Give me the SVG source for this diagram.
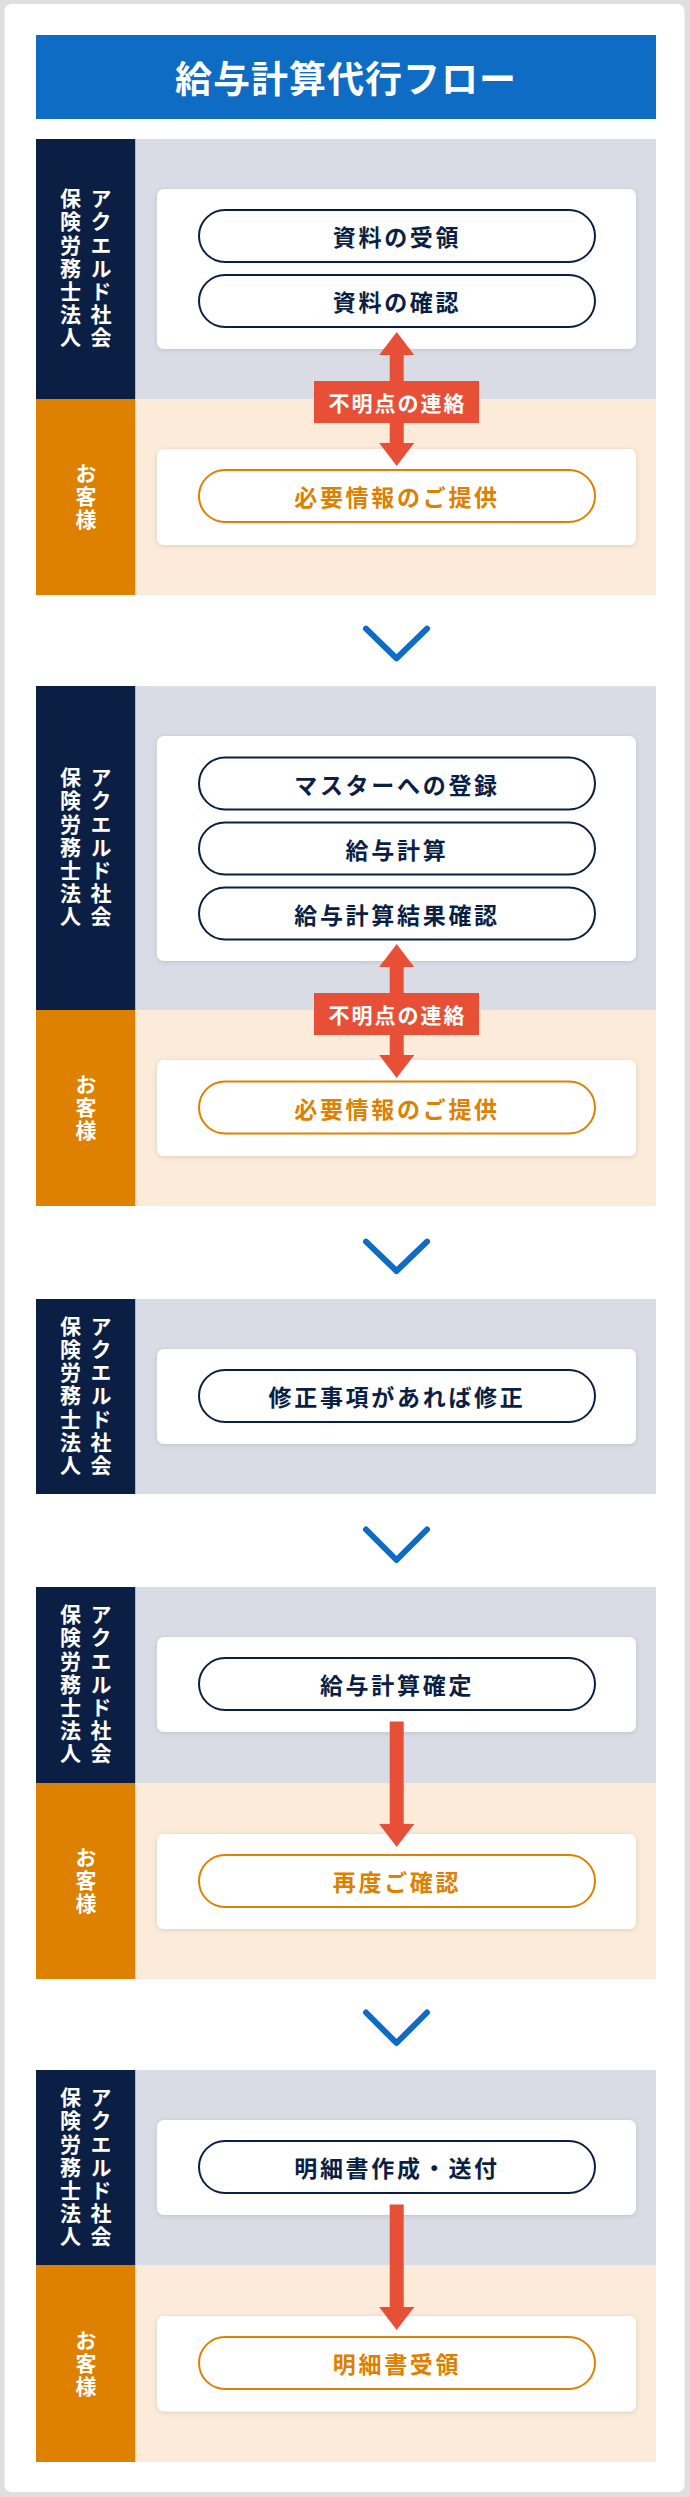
<svg xmlns="http://www.w3.org/2000/svg" width="690" height="2497" viewBox="0 0 690 2497">
<style>
text{font-family:"Noto Sans CJK JP","Noto Sans",sans-serif;font-weight:700}
.title{fill:#fff;font-size:37px;letter-spacing:1px}
.nv{fill:#0b1f45}
.ogl{fill:#de8000}
.gr{fill:#d9dce4}
.bg{fill:#fbebd8}
.card{fill:#fff;filter:url(#sh)}
.pn{fill:#fff;stroke:#0b1f45;stroke-width:2}
.po{fill:#fff;stroke:#de8000;stroke-width:2}
.tn{fill:#0b1f45;font-size:23px;letter-spacing:2.7px}
.to{fill:#de8000;font-size:23px;letter-spacing:2.7px}
.vl{fill:#fff;font-size:21px;letter-spacing:2.2px;writing-mode:vertical-rl}
.arr{stroke:#e84f37;stroke-width:14;fill:none}
.lbl{fill:#e84f37}
.lt{fill:#fff;font-size:21px;letter-spacing:2px}
.chev{fill:none;stroke:#0f6cc4;stroke-width:6;stroke-linecap:round;stroke-linejoin:round}
</style>
<defs>
<filter id="sh" x="-5%" y="-10%" width="110%" height="130%">
<feDropShadow dx="0" dy="1" stdDeviation="2.5" flood-color="#000" flood-opacity="0.12"/>
</filter>
<marker id="ah" markerUnits="userSpaceOnUse" markerWidth="23" markerHeight="35" viewBox="0 0 23 35" refX="1" refY="17.5" orient="auto-start-reverse">
<path d="M0,0 L23,17.5 L0,35 Z" fill="#e84f37"/>
</marker>
</defs>
<rect x="0" y="0" width="690" height="2497" fill="#dfdfdf"/>
<rect x="4.5" y="4" width="680" height="2488" rx="7" fill="#fff"/>

<g id="title">
<rect x="36" y="35" width="620" height="84" fill="#0f6cc4"/>
<text class="title" x="346" y="77" text-anchor="middle" dominant-baseline="central">給与計算代行フロー</text>
</g>

<g id="section1">
<rect class="nv" x="36" y="139" width="99.5" height="260"/>
<rect class="gr" x="135.5" y="139" width="520.5" height="260"/>
<rect class="ogl" x="36" y="399" width="99.5" height="196"/>
<rect class="bg" x="135.5" y="399" width="520.5" height="196"/>
<text class="vl" x="101" y="269" text-anchor="middle">アクエルド社会</text>
<text class="vl" x="70.5" y="269" text-anchor="middle">保険労務士法人</text>
<text class="vl" x="86" y="497" text-anchor="middle">お客様</text>
<rect class="card" x="157" y="189" width="479" height="160" rx="7"/>
<rect class="card" x="157" y="449" width="479" height="96" rx="7"/>
</g>
<g id="s1-n1"><rect class="pn" x="199" y="210" width="396" height="52" rx="26"/><text class="tn" x="397" y="236" text-anchor="middle" dominant-baseline="central">資料の受領</text></g>
<g id="s1-n2"><rect class="pn" x="199" y="275" width="396" height="52" rx="26"/><text class="tn" x="397" y="301" text-anchor="middle" dominant-baseline="central">資料の確認</text></g>
<g id="s1-n3"><rect class="po" x="199" y="470" width="396" height="52" rx="26"/><text class="to" x="397" y="496" text-anchor="middle" dominant-baseline="central">必要情報のご提供</text></g>

<g id="section2">
<rect class="nv" x="36" y="686" width="99.5" height="324"/>
<rect class="gr" x="135.5" y="686" width="520.5" height="324"/>
<rect class="ogl" x="36" y="1010" width="99.5" height="196"/>
<rect class="bg" x="135.5" y="1010" width="520.5" height="196"/>
<text class="vl" x="101" y="848" text-anchor="middle">アクエルド社会</text>
<text class="vl" x="70.5" y="848" text-anchor="middle">保険労務士法人</text>
<text class="vl" x="86" y="1108" text-anchor="middle">お客様</text>
<rect class="card" x="157" y="736" width="479" height="225" rx="7"/>
<rect class="card" x="157" y="1060" width="479" height="96" rx="7"/>
</g>
<g id="s2-n1"><rect class="pn" x="199" y="757.5" width="396" height="52" rx="26"/><text class="tn" x="397" y="783.5" text-anchor="middle" dominant-baseline="central">マスターへの登録</text></g>
<g id="s2-n2"><rect class="pn" x="199" y="822.5" width="396" height="52" rx="26"/><text class="tn" x="397" y="848.5" text-anchor="middle" dominant-baseline="central">給与計算</text></g>
<g id="s2-n3"><rect class="pn" x="199" y="887.5" width="396" height="52" rx="26"/><text class="tn" x="397" y="913.5" text-anchor="middle" dominant-baseline="central">給与計算結果確認</text></g>
<g id="s2-n4"><rect class="po" x="199" y="1081.5" width="396" height="52" rx="26"/><text class="to" x="397" y="1107.5" text-anchor="middle" dominant-baseline="central">必要情報のご提供</text></g>

<g id="section3">
<rect class="nv" x="36" y="1299" width="99.5" height="195"/>
<rect class="gr" x="135.5" y="1299" width="520.5" height="195"/>
<text class="vl" x="101" y="1396.5" text-anchor="middle">アクエルド社会</text>
<text class="vl" x="70.5" y="1396.5" text-anchor="middle">保険労務士法人</text>
<rect class="card" x="157" y="1349" width="479" height="95" rx="7"/>
</g>
<g id="s3-n1"><rect class="pn" x="199" y="1370" width="396" height="52" rx="26"/><text class="tn" x="397" y="1396" text-anchor="middle" dominant-baseline="central">修正事項があれば修正</text></g>

<g id="section4">
<rect class="nv" x="36" y="1587" width="99.5" height="196"/>
<rect class="gr" x="135.5" y="1587" width="520.5" height="196"/>
<rect class="ogl" x="36" y="1783" width="99.5" height="196"/>
<rect class="bg" x="135.5" y="1783" width="520.5" height="196"/>
<text class="vl" x="101" y="1685" text-anchor="middle">アクエルド社会</text>
<text class="vl" x="70.5" y="1685" text-anchor="middle">保険労務士法人</text>
<text class="vl" x="86" y="1881" text-anchor="middle">お客様</text>
<rect class="card" x="157" y="1637" width="479" height="95" rx="7"/>
<rect class="card" x="157" y="1834" width="479" height="95" rx="7"/>
</g>
<g id="s4-n1"><rect class="pn" x="199" y="1658" width="396" height="52" rx="26"/><text class="tn" x="397" y="1684" text-anchor="middle" dominant-baseline="central">給与計算確定</text></g>
<g id="s4-n2"><rect class="po" x="199" y="1855" width="396" height="52" rx="26"/><text class="to" x="397" y="1881" text-anchor="middle" dominant-baseline="central">再度ご確認</text></g>

<g id="section5">
<rect class="nv" x="36" y="2070" width="99.5" height="195.5"/>
<rect class="gr" x="135.5" y="2070" width="520.5" height="195.5"/>
<rect class="ogl" x="36" y="2265.5" width="99.5" height="196.5"/>
<rect class="bg" x="135.5" y="2265.5" width="520.5" height="196.5"/>
<text class="vl" x="101" y="2168" text-anchor="middle">アクエルド社会</text>
<text class="vl" x="70.5" y="2168" text-anchor="middle">保険労務士法人</text>
<text class="vl" x="86" y="2364" text-anchor="middle">お客様</text>
<rect class="card" x="157" y="2120" width="479" height="95" rx="7"/>
<rect class="card" x="157" y="2316" width="479" height="95.5" rx="7"/>
</g>
<g id="s5-n1"><rect class="pn" x="199" y="2141" width="396" height="52" rx="26"/><text class="tn" x="397" y="2167" text-anchor="middle" dominant-baseline="central">明細書作成・送付</text></g>
<g id="s5-n2"><rect class="po" x="199" y="2337" width="396" height="52" rx="26"/><text class="to" x="397" y="2363" text-anchor="middle" dominant-baseline="central">明細書受領</text></g>

<g id="connectors">
<line class="arr" x1="396.7" y1="354" x2="396.7" y2="444" marker-start="url(#ah)" marker-end="url(#ah)"/>
<rect class="lbl" x="314" y="381" width="165" height="42"/>
<text class="lt" x="397.5" y="402" text-anchor="middle" dominant-baseline="central">不明点の連絡</text>
<line class="arr" x1="396.7" y1="966" x2="396.7" y2="1056" marker-start="url(#ah)" marker-end="url(#ah)"/>
<rect class="lbl" x="314" y="993" width="165" height="42"/>
<text class="lt" x="397.5" y="1014" text-anchor="middle" dominant-baseline="central">不明点の連絡</text>
<line class="arr" x1="396.7" y1="1721.5" x2="396.7" y2="1825" marker-end="url(#ah)"/>
<line class="arr" x1="396.7" y1="2204.5" x2="396.7" y2="2308" marker-end="url(#ah)"/>
<path class="chev" d="M366,628.7 L396.5,658.3 L427,628.7"/>
<path class="chev" d="M366,1241.7 L396.5,1271 L427,1241.7"/>
<path class="chev" d="M366,1529.5 L396.5,1560 L427,1529.5"/>
<path class="chev" d="M366,2012.5 L396.5,2043 L427,2012.5"/>
</g>
</svg>
